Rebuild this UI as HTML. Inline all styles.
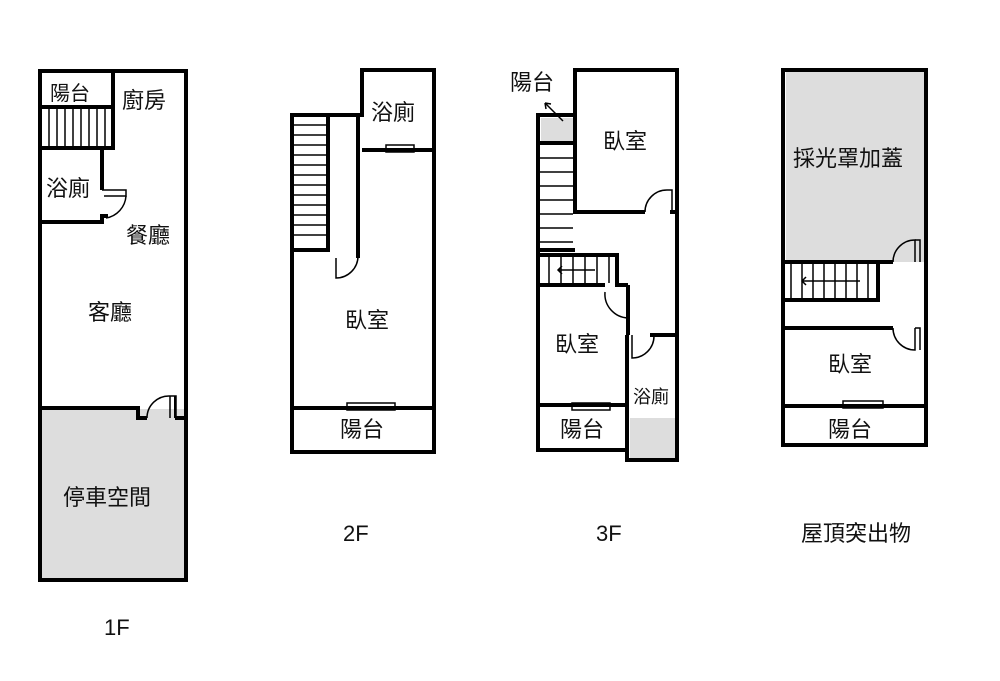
<!DOCTYPE html>
<html><head><meta charset="utf-8"><style>
body{margin:0;background:#fff}
svg text{font-family:"Liberation Sans","Noto Sans CJK TC",sans-serif;fill:#111}
</style></head><body>
<svg width="1000" height="676" viewBox="0 0 1000 676" xmlns="http://www.w3.org/2000/svg">
<g fill="none" stroke="#000" stroke-width="4">
<!-- 1F -->
<rect x="42" y="409" width="142" height="170" fill="#ddd" stroke="none"/>
<rect x="40" y="71" width="146" height="509"/>
<rect x="40" y="71" width="73" height="36"/>
<rect x="40" y="107" width="73" height="41"/>
<path d="M102 148V190M40 222H102V216H108M40 408H138V418H147M175 418H186"/>
<path d="M175 418V396" stroke-width="2"/>
</g>
<g stroke="#000" stroke-width="1.5" fill="none">
<path d="M49 109V146M57 109V146M65 109V146M73 109V146M81 109V146M89 109V146M97 109V146M105 109V146"/>
<path d="M102 190H126V196H104"/>
<path d="M126 196A24 24 0 0 1 106 218"/>
<path d="M147 418A22 22 0 0 1 170 396V418M170 396H176V418"/>
</g>
<g fill="none" stroke="#000" stroke-width="4">
<!-- 2F -->
<path d="M292 115H362V70H434V452H292Z"/>
<path d="M292 250H328V115M358 115V258M362 150H434M292 408H434"/>
</g>
<g stroke="#000" stroke-width="1.5" fill="none">
<path d="M294 125H326M294 135H326M294 145H326M294 155H326M294 165H326M294 175H326M294 185H326M294 195H326M294 205H326M294 215H326M294 225H326M294 235H326"/>
<path d="M336 258V278A22 22 0 0 0 358 256"/>
<rect x="386" y="145" width="28" height="7"/>
<rect x="347" y="403" width="48" height="7"/>
</g>
<g fill="none" stroke="#000" stroke-width="4">
<!-- 3F -->
<rect x="541" y="118" width="32" height="23" fill="#ddd" stroke="none"/>
<rect x="630" y="418" width="46" height="40" fill="#ddd" stroke="none"/>
<path d="M538 115H575V70H677V460H627V450H538Z"/>
<path d="M575 115V212H645M670 212H677M538 143H575M538 250H575M538 255H617V285H628M538 285H605M628 285V335M538 405H627M627 335V460M650 335H677"/>
</g>
<g stroke="#000" stroke-width="1.5" fill="none">
<path d="M540 158H573M540 172H573M540 186H573M540 200H573M540 214H573M540 228H573M540 242H573"/>
<path d="M549 257V283M561 257V283M573 257V283M585 257V283M597 257V283M609 257V283M595 270H558M562 266L558 270L562 274"/>
<path d="M645 212A22 22 0 0 1 667 190H672V212"/>
<path d="M605 292A24 24 0 0 0 628 318"/>
<path d="M632 335V358A22 22 0 0 0 654 336"/>
<path d="M563 121L545 103M545 103L546 109M545 103L551 104"/>
<rect x="572" y="403" width="38" height="7"/>
</g>
<g fill="none" stroke="#000" stroke-width="4">
<!-- roof -->
<rect x="786" y="72" width="138" height="190" fill="#ddd" stroke="none"/>
<rect x="783" y="70" width="143" height="375"/>
<path d="M783 262H893M783 300H878V262M783 328H893M783 406H926"/>
</g>
<g stroke="#000" stroke-width="1.5" fill="none">
<path d="M791 264V298M802 264V298M813 264V298M824 264V298M835 264V298M846 264V298M857 264V298M868 264V298M860 281H802M806 277L802 281L806 285"/>
<path d="M893 262A22 22 0 0 1 915 240V262M893 328A22 22 0 0 0 915 350V328"/>
<path d="M915 240H920V262M915 328H920V350"/>
<rect x="843" y="401" width="40" height="7"/>
</g>
<g font-size="22">
<text x="50" y="100" font-size="20">陽台</text>
<text x="122" y="108">廚房</text>
<text x="46" y="196">浴廁</text>
<text x="126" y="243">餐廳</text>
<text x="88" y="320">客廳</text>
<text x="63" y="505">停車空間</text>
<text x="104" y="635">1F</text>
<text x="371" y="120">浴廁</text>
<text x="345" y="328">臥室</text>
<text x="340" y="437">陽台</text>
<text x="343" y="541">2F</text>
<text x="510" y="90">陽台</text>
<text x="603" y="149">臥室</text>
<text x="555" y="352">臥室</text>
<text x="560" y="437">陽台</text>
<text x="633" y="403" font-size="18">浴廁</text>
<text x="596" y="541">3F</text>
<text x="793" y="166">採光罩加蓋</text>
<text x="828" y="372">臥室</text>
<text x="828" y="437">陽台</text>
<text x="801" y="541">屋頂突出物</text>
</g>
</svg>
</body></html>
